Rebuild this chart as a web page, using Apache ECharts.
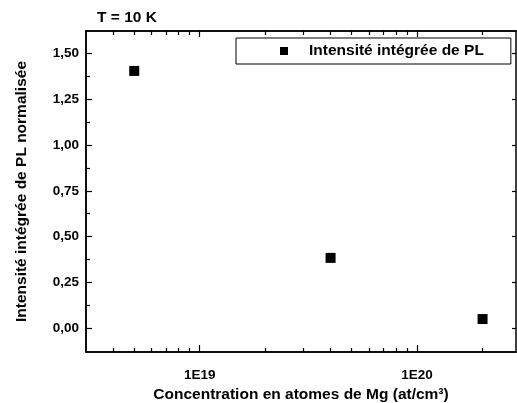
<!DOCTYPE html>
<html>
<head>
<meta charset="utf-8">
<script src="https://cdn.jsdelivr.net/npm/echarts@6/dist/echarts.min.js"></script>
<style>
    html, body { margin: 0; padding: 0; background: #fff; }
    #chart { width: 517px; height: 403px; }
</style>
</head>
<body>
<div id="chart"></div>
<script>
// ---DATA
const concentration = [5e18, 4e19, 2e20];
const intensite = [1.405, 0.384, 0.05];
const xMajorTicks = [1e19, 1e20];
const xMinorTicks = [4e18, 5e18, 6e18, 7e18, 8e18, 9e18,
    2e19, 3e19, 4e19, 5e19, 6e19, 7e19, 8e19, 9e19, 2e20];
const yTicks = [0, 0.25, 0.5, 0.75, 1, 1.25, 1.5];
const yMinorTicks = [0.125, 0.375, 0.625, 0.875, 1.125, 1.375];

const font = 'Liberation Sans, Arial, sans-serif';
const xMin = 3e18, xMax = 2.85e20;
const yMin = -0.13, yMax = 1.623;

function logAxis(pos, ticks, len, withLabel) {
    return {
        type: 'log',
        position: pos,
        min: xMin,
        max: xMax,
        axisLine: { show: true, onZero: false, lineStyle: { color: '#000', width: 1.5 } },
        splitLine: { show: false },
        axisTick: {
            show: true, inside: true, length: len,
            customValues: ticks,
            lineStyle: { color: '#000', width: 1.2 }
        },
        axisLabel: {
            show: withLabel,
            customValues: ticks,
            margin: 16,
            color: '#000',
            fontFamily: font,
            fontWeight: 'bold',
            fontSize: 13.5,
            formatter: function (v) {
                return '1E' + Math.round(Math.log10(v));
            }
        }
    };
}

function valAxis(pos, ticks, len, withLabel) {
    return {
        type: 'value',
        position: pos,
        min: yMin,
        max: yMax,
        axisLine: { show: true, onZero: false, lineStyle: { color: '#000', width: 1.5 } },
        splitLine: { show: false },
        axisTick: {
            show: true, inside: true, length: len,
            customValues: ticks,
            lineStyle: { color: '#000', width: 1.2 }
        },
        axisLabel: {
            show: withLabel,
            customValues: ticks,
            margin: 7,
            color: '#000',
            fontFamily: font,
            fontWeight: 'bold',
            fontSize: 13.5,
            formatter: function (v) {
                return v.toFixed(2).replace('.', ',');
            }
        }
    };
}

var chart = echarts.init(document.getElementById('chart'));

let xBottom = logAxis('bottom', xMajorTicks, 7, true);
xBottom.name = 'Concentration en atomes de Mg (at/cm³)';
xBottom.nameLocation = 'middle';
xBottom.nameGap = 33;
xBottom.nameTextStyle = { color: '#000', fontFamily: font, fontWeight: 'bold', fontSize: 15.5 };

let yLeft = valAxis('left', yTicks, 6, true);
yLeft.name = 'Intensité intégrée de PL normalisée';
yLeft.nameLocation = 'middle';
yLeft.nameGap = 56;
yLeft.nameTextStyle = { color: '#000', fontFamily: font, fontWeight: 'bold', fontSize: 15.5 };

option = {
    backgroundColor: '#fff',
    animation: false,
    title: {
        text: 'T = 10 K',
        left: 97,
        top: 10,
        padding: 0,
        textStyle: { color: '#000', fontFamily: font, fontWeight: 'bold', fontSize: 15.5 }
    },
    legend: {
        data: ['Intensité intégrée de PL'],
        left: 236,
        top: 38,
        padding: [5, 27, 5, 44],
        backgroundColor: '#fff',
        borderColor: '#000',
        borderWidth: 1,
        borderRadius: 0,
        icon: 'rect',
        itemWidth: 8,
        itemHeight: 8,
        itemStyle: { opacity: 1 },
        textStyle: {
            color: '#000', fontFamily: font, fontWeight: 'bold', fontSize: 15.5,
            padding: [0, 0, 0, 16]
        }
    },
    grid: {
        left: 86,
        top: 31,
        right: 1,
        bottom: 51,
        outerBoundsMode: 'none'
    },
    xAxis: [
        xBottom,
        logAxis('bottom', xMinorTicks, 4, false),
        logAxis('top', xMajorTicks, 6, false),
        logAxis('top', xMinorTicks, 4, false)
    ],
    yAxis: [
        yLeft,
        valAxis('left', yMinorTicks, 4, false),
        valAxis('right', yTicks, 4, false)
    ],
    series: [{
        name: 'Intensité intégrée de PL',
        type: 'scatter',
        xAxisIndex: 0,
        yAxisIndex: 0,
        symbol: 'rect',
        symbolSize: 10,
        itemStyle: { color: '#000', opacity: 1 },
        data: concentration.map(function (c, i) { return [c, intensite[i]]; })
    }]
};
chart.setOption(option);
</script>
</body>
</html>
